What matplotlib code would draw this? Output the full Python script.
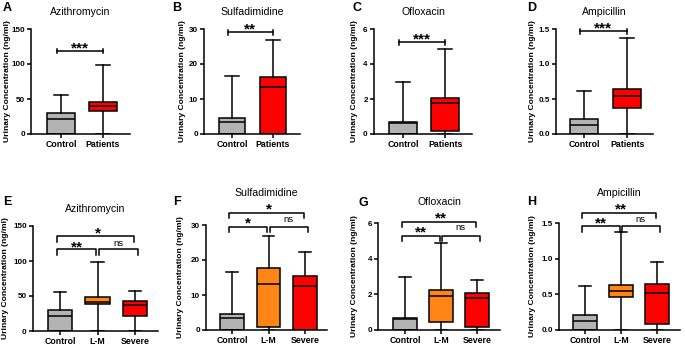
import matplotlib
matplotlib.use("Agg")
import matplotlib.pyplot as plt

plt.rcParams['font.family'] = ['Liberation Sans', 'DejaVu Sans']

W, H = 685, 346
fig = plt.figure(figsize=(W / 100, H / 100), dpi=100)

# ---------------- data ----------------
drugs = ["Azithromycin", "Sulfadimidine", "Ofloxacin", "Ampicillin"]
letters_top = ["A", "B", "C", "D"]
letters_bot = ["E", "F", "G", "H"]
groups_top = ["Control", "Patients"]
groups_bot = ["Control", "L-M", "Severe"]

# five-number summaries: min, q1, median, q3, max (ng/ml)
azi_control = [0, 0, 22, 30, 56]
azi_patients = [0, 33, 40, 46, 99]
azi_lm = [0, 38, 42, 48, 99]
azi_severe = [0, 22, 37, 43, 57]
sul_control = [0, 0, 3.5, 4.5, 16.7]
sul_patients = [0, 0, 13.3, 16.3, 26.8]
sul_lm = [0, 0.8, 13.2, 17.6, 26.9]
sul_severe = [0, 0, 12.6, 15.5, 22.2]
ofl_control = [0, 0, 0.62, 0.68, 3.0]
ofl_patients = [0, 0.2, 1.8, 2.08, 4.87]
ofl_lm = [0, 0.45, 1.9, 2.25, 4.87]
ofl_severe = [0, 0.18, 1.78, 2.05, 2.78]
amp_control = [0, 0, 0.13, 0.21, 0.61]
amp_patients = [0, 0.37, 0.54, 0.64, 1.37]
amp_lm = [0, 0.46, 0.55, 0.63, 1.37]
amp_severe = [0, 0.09, 0.52, 0.64, 0.95]

y_max = [150, 30, 6, 1.5]
y_ticks = [[0, 50, 100, 150], [0, 10, 20, 30], [0, 2, 4, 6], [0, 0.5, 1.0, 1.5]]
y_ticklabels = [["0", "50", "100", "150"], ["0", "10", "20", "30"],
                ["0", "2", "4", "6"], ["0.0", "0.5", "1.0", "1.5"]]
sig_top = ["***", "**", "***", "***"]
sig_ctrl_lm = ["**", "*", "**", "**"]
sig_lm_sev = ["ns", "ns", "ns", "ns"]
sig_ctrl_sev = ["*", "*", "**", "**"]

top_data = [[azi_control, azi_patients], [sul_control, sul_patients],
            [ofl_control, ofl_patients], [amp_control, amp_patients]]
bot_data = [[azi_control, azi_lm, azi_severe], [sul_control, sul_lm, sul_severe],
            [ofl_control, ofl_lm, ofl_severe], [amp_control, amp_lm, amp_severe]]

colors_top = ["#B3B3B3", "#FF0000"]
colors_bot = ["#B3B3B3", "#FF8514", "#FF0000"]

# ---------------- layout (pixels) ----------------
# left, right, top(y=max), bottom(y=0), xlim
top_boxes = [(31, 130, 29, 134, (-0.71, 1.64)), (204, 300, 29, 134, (-0.68, 1.66)),
             (374, 472, 29, 134, (-0.69, 1.64)), (556, 653, 29, 134, (-0.65, 1.60))]
bot_boxes = [(33, 158, 226, 331, (-0.72, 2.61)), (206, 327, 225, 330, (-0.71, 2.60)),
             (378, 500, 223, 330, (-0.75, 2.64)), (559, 680, 223, 330, (-0.72, 2.64))]
top_title_y = [12, 12, 12, 12]
bot_title_y = [209, 193, 202, 193]
top_letter = [(3, 8), (172, 8), (353, 8), (527, 8)]
bot_letter = [(3, 202), (173, 202), (358, 203), (527, 202)]
top_ylabel_x = [8, 182, 355, 532]
bot_ylabel_x = [6, 180, 355, 532]
# top-row bracket y, star y (pixels)
top_br = [(51, 44), (32, 25), (42, 35), (31, 24)]
# bottom: lower bracket top, lower legs, upper top, upper legs, lower labels, upper label
bot_br = [(249, 255, 236, 242, 243, 229), (227, 232, 213, 218, 219, 205),
          (236, 241, 222, 227, 228, 214), (226, 232, 213, 218, 219, 205)]

LW = 1.1


def fx(px):
    return px / W


def fy(py):
    return 1 - py / H


def make_axes(box, ymax, ticks, tlabels, groups, data, colors, title, title_y, letter, lpos, ylx):
    l, r, t, b, xlim = box
    ax = fig.add_axes([fx(l), fy(b), (r - l) / W, (b - t) / H])
    stats = [dict(whislo=s[0], q1=s[1], med=s[2], q3=s[3], whishi=s[4], label=g)
             for s, g in zip(data, groups)]
    bp = ax.bxp(stats, positions=list(range(len(groups))), widths=0.65, patch_artist=True,
                showfliers=False, manage_ticks=False,
                boxprops=dict(edgecolor="black", linewidth=LW),
                medianprops=dict(color="black", linewidth=LW),
                whiskerprops=dict(color="black", linewidth=LW),
                capprops=dict(color="black", linewidth=LW))
    for p, c in zip(bp["boxes"], colors):
        p.set_facecolor(c)
    ax.set_xlim(*xlim)
    ax.set_ylim(0, ymax)
    ax.set_yticks(ticks)
    ax.set_yticklabels(tlabels, fontsize=5.8, fontweight="bold")
    ax.set_xticks(list(range(len(groups))))
    ax.set_xticklabels(groups, fontsize=6.3, fontweight="bold")
    for s in ["top", "right"]:
        ax.spines[s].set_visible(False)
    for s in ["left", "bottom"]:
        ax.spines[s].set_linewidth(LW)
    ax.tick_params(axis="both", direction="out", length=3, width=LW, pad=1.5)
    ax.patch.set_alpha(0)
    fig.text(fx((l + r) / 2), fy(title_y), title, fontsize=7.6, ha="center", va="center")
    fig.text(fx(lpos[0]), fy(lpos[1]), letter, fontsize=9, fontweight="bold",
             ha="left", va="center")
    fig.text(fx(ylx), fy((t + b) / 2), "Urinary Concentration (ng/ml)", fontsize=6.1,
             fontweight="bold", rotation=90, ha="center", va="center")

    def py2d(py):
        return ymax * (b - py) / (b - t)

    return ax, py2d


def star_text(ax, x, ycen_px, py2d, s):
    if s == "ns":
        ax.text(x, py2d(ycen_px), s, fontsize=6.8, ha="center", va="center", clip_on=False)
    else:
        # asterisk sits high in the em box; shift so its centre falls on ycen_px
        fs = 11
        em = fs * 100 / 72
        ax.text(x, py2d(ycen_px + 0.57 * em), s, fontsize=fs, fontweight="bold",
                ha="center", va="baseline", clip_on=False)


for i in range(4):
    ax, py2d = make_axes(top_boxes[i], y_max[i], y_ticks[i], y_ticklabels[i], groups_top,
                         top_data[i], colors_top, drugs[i], top_title_y[i], letters_top[i],
                         top_letter[i], top_ylabel_x[i])
    yb, ys = top_br[i]
    x0, x1 = -0.1, 1.0
    ax.plot([x0, x1], [py2d(yb)] * 2, color="black", lw=LW, clip_on=False)
    for xx in (x0, x1):
        ax.plot([xx, xx], [py2d(yb + 2.5), py2d(yb - 2.5)], color="black", lw=LW, clip_on=False)
    star_text(ax, (x0 + x1) / 2, ys, py2d, sig_top[i])

for i in range(4):
    ax, py2d = make_axes(bot_boxes[i], y_max[i], y_ticks[i], y_ticklabels[i], groups_bot,
                         bot_data[i], colors_bot, drugs[i], bot_title_y[i], letters_bot[i],
                         bot_letter[i], bot_ylabel_x[i])
    lt, ll, ut, ul, lab, uab = bot_br[i]

    def bracket(xa, xb, top, leg):
        ax.plot([xa, xa, xb, xb], [py2d(leg), py2d(top), py2d(top), py2d(leg)],
                color="black", lw=LW, clip_on=False)

    bracket(-0.08, 0.96, lt, ll)
    bracket(1.04, 2.08, lt, ll)
    bracket(-0.08, 1.96, ut, ul)
    star_text(ax, 0.45, lab, py2d, sig_ctrl_lm[i])
    star_text(ax, 1.55, lab, py2d, sig_lm_sev[i])
    star_text(ax, 1.0, uab, py2d, sig_ctrl_sev[i])

fig.savefig("out.png", dpi=100)
